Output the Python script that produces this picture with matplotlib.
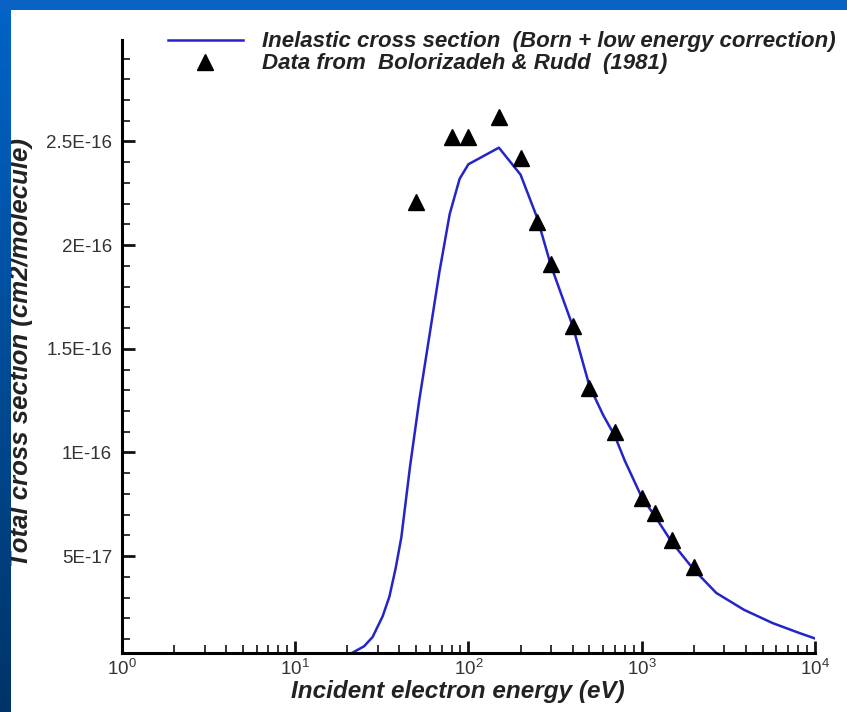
import matplotlib
matplotlib.use("Agg")
import matplotlib.pyplot as plt
import numpy as np
from matplotlib.ticker import FixedLocator, FixedFormatter, LogLocator

# model curve (Born + low energy correction), energy in eV, cross section in cm2
curve_e = [21, 25, 28, 32, 35, 38, 41, 46, 52, 60, 68, 78, 89, 100, 150, 200,
           250, 300, 400, 500, 600, 700, 800, 1000, 1200, 1500, 2000, 2700,
           3900, 5700, 8200, 10000]
curve_y = [0.03, 0.065, 0.11, 0.21, 0.305, 0.44, 0.59, 0.93, 1.25, 1.58, 1.87,
           2.15, 2.32, 2.39, 2.47, 2.34, 2.13, 1.90, 1.61, 1.32, 1.18, 1.08,
           0.96, 0.785, 0.69, 0.565, 0.435, 0.322, 0.241, 0.177, 0.128, 0.103]

# Bolorizadeh & Rudd (1981)
data_e = [50, 80, 100, 150, 200, 250, 300, 400, 500, 700, 1000, 1200, 1500, 2000]
data_y = [2.21, 2.52, 2.52, 2.62, 2.42, 2.11, 1.91, 1.61, 1.31, 1.10, 0.78,
          0.71, 0.58, 0.445]

ytick_vals = [5e-17, 1e-16, 1.5e-16, 2e-16, 2.5e-16]
ytick_labels = ["5E-17", "1E-16", "1.5E-16", "2E-16", "2.5E-16"]

curve_y = np.array(curve_y) * 1e-16
data_y = np.array(data_y) * 1e-16

narrow = ["Liberation Sans Narrow", "Liberation Sans", "DejaVu Sans"]
plt.rcParams["font.family"] = ["Liberation Sans", "DejaVu Sans"]
plt.rcParams["mathtext.default"] = "regular"

fig = plt.figure(figsize=(8.47, 7.12), dpi=100)
fig.patch.set_facecolor("white")

ax = fig.add_axes([0.144, 0.083, 0.818, 0.861])
ax.plot(curve_e, curve_y, color="#2424c8", lw=1.8,
        label="Inelastic cross section  (Born + low energy correction)")
ax.plot(data_e, data_y, ls="none", marker="^", ms=12, color="black",
        label="Data from  Bolorizadeh & Rudd  (1981)")

ax.set_xscale("log")
ax.set_xlim(1, 1e4)
ax.set_ylim(3.3e-18, 2.99e-16)

ax.yaxis.set_major_locator(FixedLocator(ytick_vals))
ax.yaxis.set_major_formatter(FixedFormatter(ytick_labels))
ax.yaxis.set_minor_locator(FixedLocator(np.arange(1, 30) * 1e-17))
ax.xaxis.set_minor_locator(LogLocator(base=10, subs=np.arange(2, 10)))

for s in ["top", "right"]:
    ax.spines[s].set_visible(False)
for s in ["left", "bottom"]:
    ax.spines[s].set_linewidth(2.2)

ax.tick_params(which="major", direction="in", length=9, width=2, colors="#111111",
               labelsize=13.5)
ax.tick_params(which="minor", direction="in", length=5.5, width=1.2, colors="#111111")
ax.tick_params(axis="y", pad=7, labelcolor="#333333")
ax.tick_params(axis="x", pad=4, labelcolor="#333333")

ax.set_xlabel("Incident electron energy (eV)", family=narrow, weight="bold",
              style="italic", fontsize=17.5, color="#222222")
ax.set_ylabel("Total cross section (cm2/molecule)", family=narrow, weight="bold",
              style="italic", fontsize=18.5, color="#222222")
ax.xaxis.set_label_coords(0.485, -0.045)
ax.yaxis.set_label_coords(-0.128, 0.49)

leg = ax.legend(loc="upper left", bbox_to_anchor=(0.198, 0.956),
                bbox_transform=fig.transFigure, frameon=False,
                prop=dict(family=narrow, weight="bold", style="italic", size=16),
                handlelength=3.4, handletextpad=0.85, labelspacing=0.05,
                borderpad=0, borderaxespad=0)
for t in leg.get_texts():
    t.set_color("#222222")

# slide background bands
band = fig.add_axes([0, 0, 10 / 847, 1], zorder=10)
grad = np.linspace(0, 1, 256).reshape(-1, 1)
band.imshow(grad, aspect="auto", cmap=matplotlib.colors.LinearSegmentedColormap.from_list(
    "b", ["#003468", "#0064c8"]), origin="lower", extent=[0, 1, 0, 1])
band.axis("off")
top = fig.add_axes([0, 1 - 10 / 712, 1, 10 / 712], zorder=10)
top.set_facecolor("#0a62c4")
top.set_xticks([])
top.set_yticks([])
for s in top.spines.values():
    s.set_visible(False)

fig.savefig("out.png", dpi=100)
